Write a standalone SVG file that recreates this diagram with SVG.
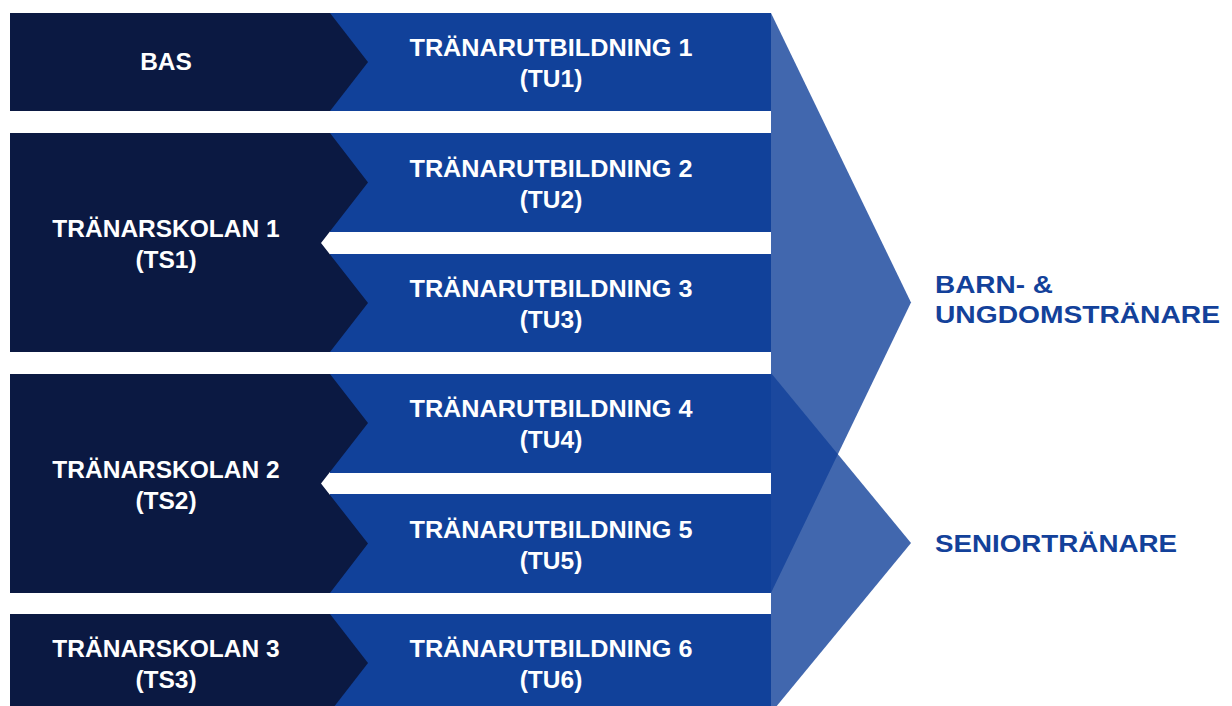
<svg xmlns="http://www.w3.org/2000/svg" width="1232" height="706" viewBox="0 0 1232 706">
<style>
.dark{fill:#0b1942}
.blue{fill:#11419a}
.tri{fill:#11419a;fill-opacity:0.8}
.w{fill:#ffffff;font-family:"Liberation Sans",Arial,sans-serif;font-weight:bold;font-size:24.5px;text-anchor:middle}
.lbl{fill:#13419a;font-family:"Liberation Sans",Arial,sans-serif;font-weight:bold;font-size:24px}
</style>
<rect width="1232" height="706" fill="#ffffff"/>
<g id="tu-rows">
<g id="tu1"><rect class="blue" x="330" y="13" width="441" height="98"/><text class="w" x="551" y="56" textLength="283" lengthAdjust="spacingAndGlyphs">TRÄNARUTBILDNING 1</text><text class="w" x="551" y="87">(TU1)</text></g>
<g id="tu2"><rect class="blue" x="330" y="133" width="441" height="99"/><text class="w" x="551" y="177" textLength="283" lengthAdjust="spacingAndGlyphs">TRÄNARUTBILDNING 2</text><text class="w" x="551" y="208">(TU2)</text></g>
<g id="tu3"><rect class="blue" x="330" y="254" width="441" height="98"/><text class="w" x="551" y="297" textLength="283" lengthAdjust="spacingAndGlyphs">TRÄNARUTBILDNING 3</text><text class="w" x="551" y="328">(TU3)</text></g>
<g id="tu4"><rect class="blue" x="330" y="374" width="441" height="99"/><text class="w" x="551" y="417" textLength="283" lengthAdjust="spacingAndGlyphs">TRÄNARUTBILDNING 4</text><text class="w" x="551" y="448">(TU4)</text></g>
<g id="tu5"><rect class="blue" x="330" y="494" width="441" height="99"/><text class="w" x="551" y="538" textLength="283" lengthAdjust="spacingAndGlyphs">TRÄNARUTBILDNING 5</text><text class="w" x="551" y="569">(TU5)</text></g>
<g id="tu6"><rect class="blue" x="330" y="614" width="441" height="98"/><text class="w" x="551" y="657" textLength="283" lengthAdjust="spacingAndGlyphs">TRÄNARUTBILDNING 6</text><text class="w" x="551" y="688">(TU6)</text></g>
</g>
<g id="left-column">
<g id="bas"><polygon class="dark" points="10,13 330,13 368,62 330,111 10,111"/><text class="w" x="166" y="70">BAS</text></g>
<g id="ts1"><polygon class="dark" points="10,133 330,133 368,182.5 321,243 368,303 330,352 10,352"/><text class="w" x="166" y="237">TRÄNARSKOLAN 1</text><text class="w" x="166" y="268">(TS1)</text></g>
<g id="ts2"><polygon class="dark" points="10,374 330,374 368,423 321,483.5 368,543.5 330,593 10,593"/><text class="w" x="166" y="478">TRÄNARSKOLAN 2</text><text class="w" x="166" y="509">(TS2)</text></g>
<g id="ts3"><polygon class="dark" points="10,614 330,614 368,663 330,712 10,712"/><text class="w" x="166" y="657">TRÄNARSKOLAN 3</text><text class="w" x="166" y="688">(TS3)</text></g>
</g>
<g id="connectors">
<polygon class="tri" points="771,13 911,302.5 771,593"/>
<polygon class="tri" points="771,373 911,543 771,713"/>
</g>
<g id="barn-ungdom"><text class="lbl" x="935" y="293" textLength="118" lengthAdjust="spacingAndGlyphs">BARN- &amp;</text><text class="lbl" x="935" y="323" textLength="285" lengthAdjust="spacingAndGlyphs">UNGDOMSTRÄNARE</text></g>
<g id="senior"><text class="lbl" x="935" y="552" textLength="242" lengthAdjust="spacingAndGlyphs">SENIORTRÄNARE</text></g>
</svg>
